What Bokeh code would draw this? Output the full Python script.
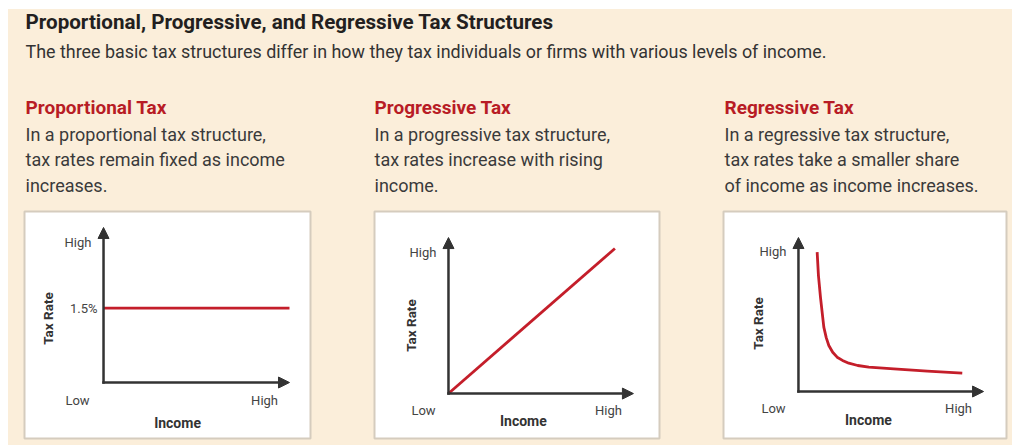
from bokeh.plotting import figure
from bokeh.models import Label, Arrow, NormalHead, Range1d
from bokeh.layouts import column, row
from bokeh.embed import file_html
from bokeh.resources import INLINE
from bokeh.core.properties import value

# ---------------- data ----------------
TITLE = "Proportional, Progressive, and Regressive Tax Structures"
SUBTITLE = ("The three basic tax structures differ in how they tax individuals "
            "or firms with various levels of income.")
PANEL_HEADINGS = ["Proportional Tax", "Progressive Tax", "Regressive Tax"]
PANEL_TEXT = [
    ["In a proportional tax structure,", "tax rates remain fixed as income", "increases."],
    ["In a progressive tax structure,", "tax rates increase with rising", "income."],
    ["In a regressive tax structure,", "tax rates take a smaller share", "of income as income increases."],
]
X_TICK_LABELS = ["Low", "High"]
Y_TICK_LABEL = "High"
Y_AXIS_NAME = "Tax Rate"
X_AXIS_NAME = "Income"

# income and tax rate on a 0 (Low) .. 100 (High) scale
prop_income = [0, 100]
prop_rate = [48, 48]
prop_rate_label = "1.5%"

prog_income = [0, 90]
prog_rate = [0, 93]

regr_income = [10.1, 10.8, 11.9, 13.7, 15.0, 16.4, 18.5, 20.9, 23.8, 27.2, 32.0, 38.0, 51.5, 69.6, 88.5]
regr_rate = [90.5, 75.3, 61.2, 41.8, 35.0, 29.9, 25.5, 22.3, 20.2, 18.4, 16.9, 15.8, 14.7, 13.2, 11.9]

AXIS_MAX = 100

# ---------------- style ----------------
BEIGE = "#FBEEDA"
BOX = "#D5CCBE"
AX = "#333333"
RED = "#C41E2A"
HEAD_RED = "#B81C25"
FONT = "Roboto"


def panel(width, left, right, xr, yr, lab):
    p = figure(width=width, height=245, x_range=Range1d(*xr), y_range=Range1d(*yr),
               x_axis_type=None, y_axis_type=None, toolbar_location=None,
               output_backend="svg", title=None,
               min_border_left=left, min_border_right=right,
               min_border_top=11, min_border_bottom=7,
               background_fill_color="white", border_fill_color=BEIGE,
               outline_line_color=BOX, outline_line_width=2)

    for xs, ys, xe, ye in [(0, 0, 0, AXIS_MAX), (0, 0, AXIS_MAX, 0)]:
        p.add_layout(Arrow(end=NormalHead(size=11, fill_color=AX, line_color=AX, line_width=1),
                           x_start=xs, y_start=ys, x_end=xe, y_end=ye,
                           line_color=AX, line_width=2.5, line_cap="square"))

    yl, xlow, xhigh, ynm, xnm = lab
    p.text(x=[yl[0]], y=[yl[1]], text=[Y_TICK_LABEL], text_align="right",
           text_baseline="middle", text_font=value(FONT), text_font_size="13px",
           text_color="#444444")
    p.text(x=[xlow[0], xhigh[0]], y=[xlow[1], xhigh[1]], text=X_TICK_LABELS,
           text_align="center", text_baseline="middle", text_font=value(FONT),
           text_font_size="13px", text_color="#444444")
    p.text(x=[ynm[0]], y=[ynm[1]], text=[Y_AXIS_NAME], angle=1.5708,
           text_align="center", text_baseline="middle", text_font=value(FONT),
           text_font_size="13.5px", text_font_style="bold", text_color=AX)
    p.text(x=[xnm[0]], y=[xnm[1]], text=[X_AXIS_NAME], text_align="center",
           text_baseline="middle", text_font=value(FONT), text_font_size="14px",
           text_font_style="bold", text_color=AX)
    return p


# ---------------- header with all texts ----------------
h = figure(width=1004, height=191, x_range=Range1d(0, 1), y_range=Range1d(0, 1),
           x_axis_type=None, y_axis_type=None, toolbar_location=None,
           output_backend="svg", title=None, min_border=0,
           background_fill_color=BEIGE, border_fill_color=BEIGE, outline_line_color=None)
h.add_layout(Label(x=17, y=179, x_units="screen", y_units="screen", text=TITLE,
                   text_font=FONT, text_font_size="20.6px", text_font_style="bold",
                   text_color="#231F20", text_baseline="alphabetic"))
h.add_layout(Label(x=17, y=149, x_units="screen", y_units="screen", text=SUBTITLE,
                   text_font=FONT, text_font_size="17.9px", text_color="#333333",
                   text_baseline="alphabetic"))

col_x = [17, 366, 716]
line_y = [66, 41.5, 15]
for cx, head, lines in zip(col_x, PANEL_HEADINGS, PANEL_TEXT):
    h.add_layout(Label(x=cx, y=93, x_units="screen", y_units="screen", text=head,
                       text_font=FONT, text_font_size="19px", text_font_style="bold",
                       text_color=HEAD_RED, text_baseline="alphabetic"))
    for ly, txt in zip(line_y, lines):
        h.add_layout(Label(x=cx, y=ly, x_units="screen", y_units="screen", text=txt,
                           text_font=FONT, text_font_size="18px", text_color="#3a3a3a",
                           text_baseline="alphabetic"))

# ---------------- charts ----------------
p1 = panel(334, 16, 32, (-42.5, 111.3), (-36.1, 110.3),
           ((-6.5, 90), (-14, -11.6), (86.6, -11.6), (-29.6, 41.3), (39.8, -25.8)))
p1.line(prop_income, prop_rate, line_color=RED, line_width=2.8)
p1.text(x=[-3.2], y=[prop_rate[0]], text=[prop_rate_label], text_align="right",
        text_baseline="middle", text_font=value(FONT), text_font_size="13px",
        text_color="#444444")

p2 = panel(349, 32, 32, (-40.0, 114.1), (-28.8, 116.7),
           ((-6.5, 90.4), (-13.5, -10.9), (86.5, -10.9), (-20.5, 43.6), (40.5, -17.3)))
p2.line(prog_income, prog_rate, line_color=RED, line_width=2.8)

p3 = panel(321, 32, 6, (-40.5, 112.4), (-30.5, 116.9),
           ((-6.5, 90.9), (-13.5, -11), (86.5, -11), (-21.6, 44.2), (37.8, -18.8)))
p3.line(regr_income, regr_rate, line_color=RED, line_width=2.8, line_join="round")

charts = row(p1, p2, p3, styles={"background-color": BEIGE})
layout = column(h, charts, margin=(9, 0, 0, 8), styles={"background-color": BEIGE})

open("out.html", "w").write(file_html(layout, INLINE))
